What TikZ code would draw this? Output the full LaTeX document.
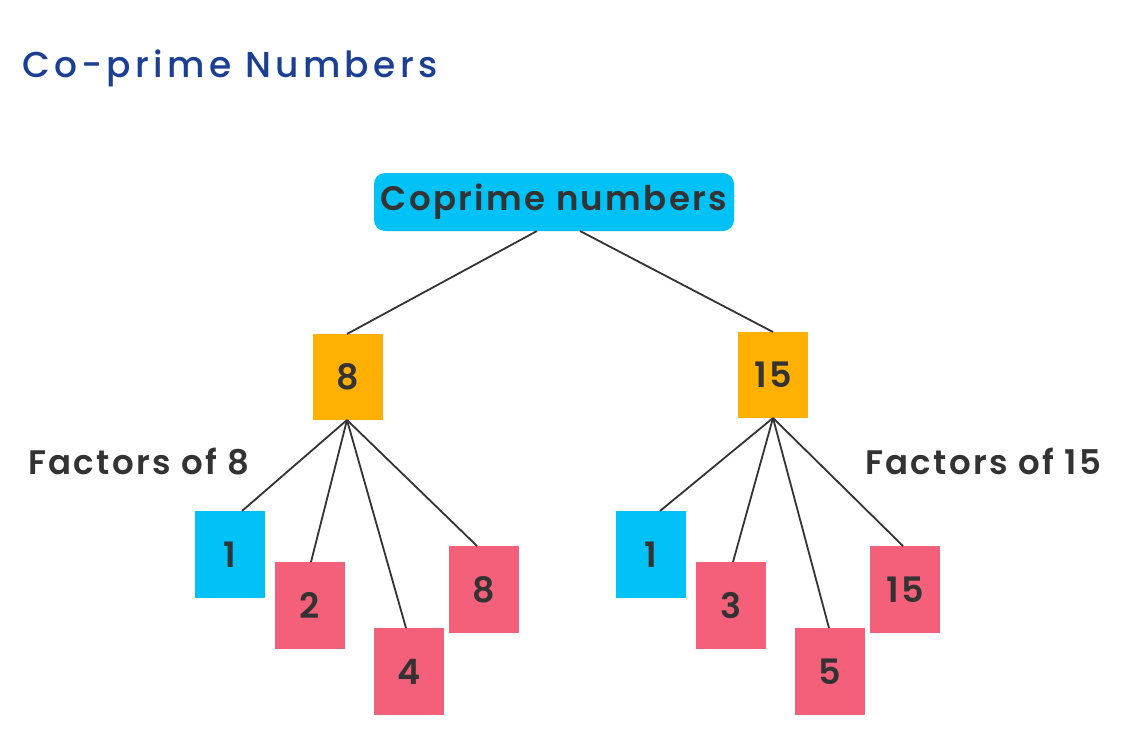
\documentclass[tikz,border=0pt]{standalone}
\usepackage{fontspec}
\setmainfont{Poppins SemiBold}[LetterSpace=7]
\newfontfamily\headfont{Poppins Medium}[LetterSpace=12]
\begin{document}
\definecolor{titleblue}{HTML}{1B3F93}
\definecolor{skyfill}{HTML}{00C2F7}
\definecolor{amberfill}{HTML}{FFB000}
\definecolor{rosefill}{HTML}{F4607A}
\definecolor{ink}{HTML}{333333}
\begin{tikzpicture}[x=1pt,y=-1pt,
  every node/.style={inner sep=0pt,outer sep=0pt,text=ink},
  tile/.style={minimum width=70pt,minimum height=87pt,font=\fontsize{35}{35}\selectfont},
  rootbox/.style={fill=skyfill,rounded corners=11pt,minimum width=360pt,minimum height=58pt,font=\fontsize{34}{34}\selectfont},
  parentbox/.style={tile,fill=amberfill,minimum height=86pt},
  unitbox/.style={tile,fill=skyfill},
  factorbox/.style={tile,fill=rosefill},
  caption/.style={font=\fontsize{34}{34}\selectfont,anchor=base west},
  link/.style={draw=ink,line width=1.8pt}]
\useasboundingbox (0,0) rectangle (1125,745);
\fill[white] (0,0) rectangle (1125,745);

% heading
\node[anchor=base west,text=titleblue,font=\headfont\fontsize{36}{36}\selectfont] (heading) at (22,77) {Co-prime Numbers};

% root of the tree
\node[rootbox] (root) at (554,202) {Coprime numbers};

% the two numbers
\node[parentbox] (eight) at (348,377) {8};
\node[parentbox] (fifteen) at (773,375) {15};

% factors of 8
\node[unitbox]   (e1) at (230,554.5) {1};
\node[factorbox] (e2) at (310,605.5) {2};
\node[factorbox] (e4) at (409,671.5) {4};
\node[factorbox] (e8) at (484,589.5) {8};

% factors of 15
\node[unitbox]   (f1)  at (651,554.5) {1};
\node[factorbox] (f3)  at (731,605.5) {3};
\node[factorbox] (f5)  at (830,671.5) {5};
\node[factorbox] (f15) at (905,589.5) {15};

\node[caption] (capl) at (28,474) {Factors of 8};
\node[caption] (capr) at (865,474) {Factors of 15};

% connectors
\coordinate (eb) at ([xshift=-1pt]eight.south);
\coordinate (fb) at (fifteen.south);
\draw[link] ([xshift=-17pt]root.south) -- ([xshift=-1pt]eight.north);
\draw[link] ([xshift=26pt]root.south) -- (fifteen.north);
\draw[link] (eb) -- ([xshift=12pt]e1.north);
\draw[link] (eb) -- ([xshift=1pt]e2.north);
\draw[link] (eb) -- ([xshift=-3pt]e4.north);
\draw[link] (eb) -- ([xshift=-7pt]e8.north);
\draw[link] (fb) -- ([xshift=9pt]f1.north);
\draw[link] (fb) -- ([xshift=2pt]f3.north);
\draw[link] (fb) -- ([xshift=-1pt]f5.north);
\draw[link] (fb) -- ([xshift=-2pt]f15.north);
\end{tikzpicture}
\end{document}
